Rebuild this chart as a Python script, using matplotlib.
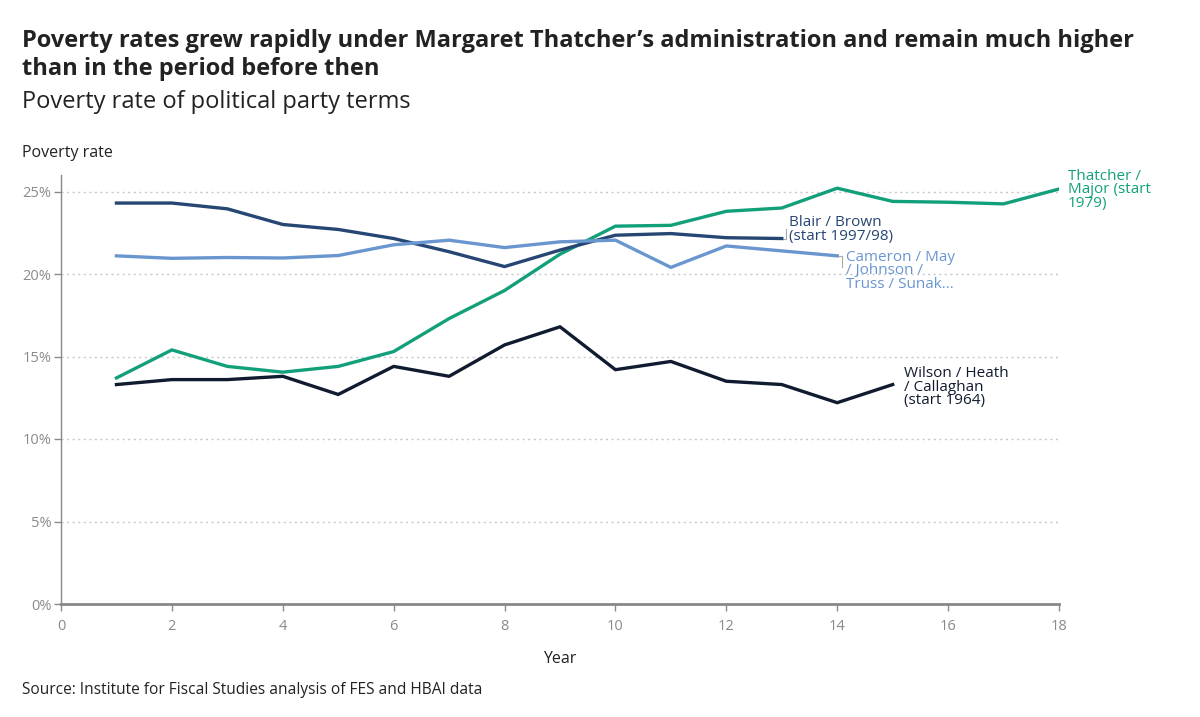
import matplotlib.pyplot as plt
from matplotlib.ticker import FuncFormatter

# poverty rate (%) by year of term
wilson_years = list(range(1, 16))
wilson = [13.3, 13.6, 13.6, 13.8, 12.7, 14.4, 13.8, 15.7, 16.8, 14.2, 14.7, 13.5, 13.3, 12.2, 13.3]

thatcher_years = list(range(1, 19))
thatcher = [13.7, 15.4, 14.4, 14.05, 14.4, 15.3, 17.3, 19.0, 21.2, 22.9, 22.95, 23.8, 24.0, 25.2, 24.4, 24.35, 24.25, 25.15]

blair_years = list(range(1, 14))
blair = [24.3, 24.3, 23.95, 23.0, 22.7, 22.15, 21.35, 20.45, 21.45, 22.35, 22.45, 22.2, 22.15]

cameron_years = list(range(1, 15))
cameron = [21.1, 20.95, 21.0, 20.97, 21.12, 21.77, 22.05, 21.6, 21.95, 22.05, 20.4, 21.7, 21.4, 21.1]

x_ticks = list(range(0, 19, 2))
y_ticks = [0, 5, 10, 15, 20, 25]

GREEN = "#12a07a"
DARK_BLUE = "#264673"
LIGHT_BLUE = "#6a96d0"
NAVY = "#111b30"
GRID = "#c8c8c8"
TICK = "#8a8a8a"

plt.rcParams["font.family"] = ["Open Sans", "DejaVu Sans"]

fig = plt.figure(figsize=(12, 7.17), dpi=100)
ax = fig.add_axes([61 / 1200, 1 - 604 / 717, (1059 - 61) / 1200, (604 - 175) / 717])

ax.plot(wilson_years, wilson, color=NAVY, lw=2.4, solid_joinstyle="round", zorder=3)
ax.plot(thatcher_years, thatcher, color=GREEN, lw=2.4, solid_joinstyle="round", zorder=3)
ax.plot(blair_years, blair, color=DARK_BLUE, lw=2.4, solid_joinstyle="round", zorder=3)
ax.plot(cameron_years, cameron, color=LIGHT_BLUE, lw=2.4, solid_joinstyle="round", zorder=3)

ax.set_xlim(0, 18)
ax.set_ylim(0, 26)
ax.set_xticks(x_ticks)
ax.set_yticks(y_ticks)
ax.yaxis.set_major_formatter(FuncFormatter(lambda v, p: f"{v:.0f}%"))
ax.tick_params(axis="both", colors=TICK, labelsize=10.5, length=5, width=1)
ax.tick_params(axis="x", pad=6)
ax.tick_params(axis="y", pad=2)

for y in y_ticks[1:]:
    ax.axhline(y, color=GRID, lw=1, ls=(0, (1.5, 2.5)), zorder=1)

for side in ["top", "right"]:
    ax.spines[side].set_visible(False)
ax.spines["left"].set_color("#888888")
ax.spines["left"].set_linewidth(1)
ax.spines["bottom"].set_color("#888888")
ax.spines["bottom"].set_linewidth(2)

ax.set_xlabel("Year", fontsize=11.5, color="#222222", labelpad=12)

# series labels at line ends
lab = dict(fontsize=11, va="center", ha="left", linespacing=0.85)
ax.text(18.16, 25.1, "Thatcher /\nMajor (start\n1979)", color=GREEN, **lab)
ax.text(13.13, 22.7, "Blair / Brown\n(start 1997/98)", color=DARK_BLUE, **lab)
ax.text(14.15, 20.2, "Cameron / May\n/ Johnson /\nTruss / Sunak...", color=LIGHT_BLUE, **lab)
ax.text(15.2, 13.15, "Wilson / Heath\n/ Callaghan\n(start 1964)", color=NAVY, **lab)

# little connectors
ax.plot([18.02, 18.12], [25.15, 25.2], color="#aaaaaa", lw=0.8)
ax.plot([13.0, 13.07, 13.07], [22.15, 22.15, 22.75], color="#aaaaaa", lw=0.8)
ax.plot([14.02, 14.08, 14.08], [21.1, 21.1, 20.4], color="#aaaaaa", lw=0.8)

fig.text(22 / 1200, 1 - 55 / 717,
         "Poverty rates grew rapidly under Margaret Thatcher\u2019s administration and remain much higher\nthan in the period before then",
         fontsize=17, fontweight="bold", color="#222222", va="center", ha="left", linespacing=1.2)
fig.text(22 / 1200, 1 - 102 / 717, "Poverty rate of political party terms",
         fontsize=17, color="#222222", va="center", ha="left")
fig.text(22 / 1200, 1 - 153 / 717, "Poverty rate", fontsize=11.5, color="#222222", va="center", ha="left")
fig.text(22 / 1200, 1 - 690 / 717, "Source: Institute for Fiscal Studies analysis of FES and HBAI data",
         fontsize=11.2, color="#222222", va="center", ha="left")

fig.savefig("out.png", dpi=100, facecolor="white")
